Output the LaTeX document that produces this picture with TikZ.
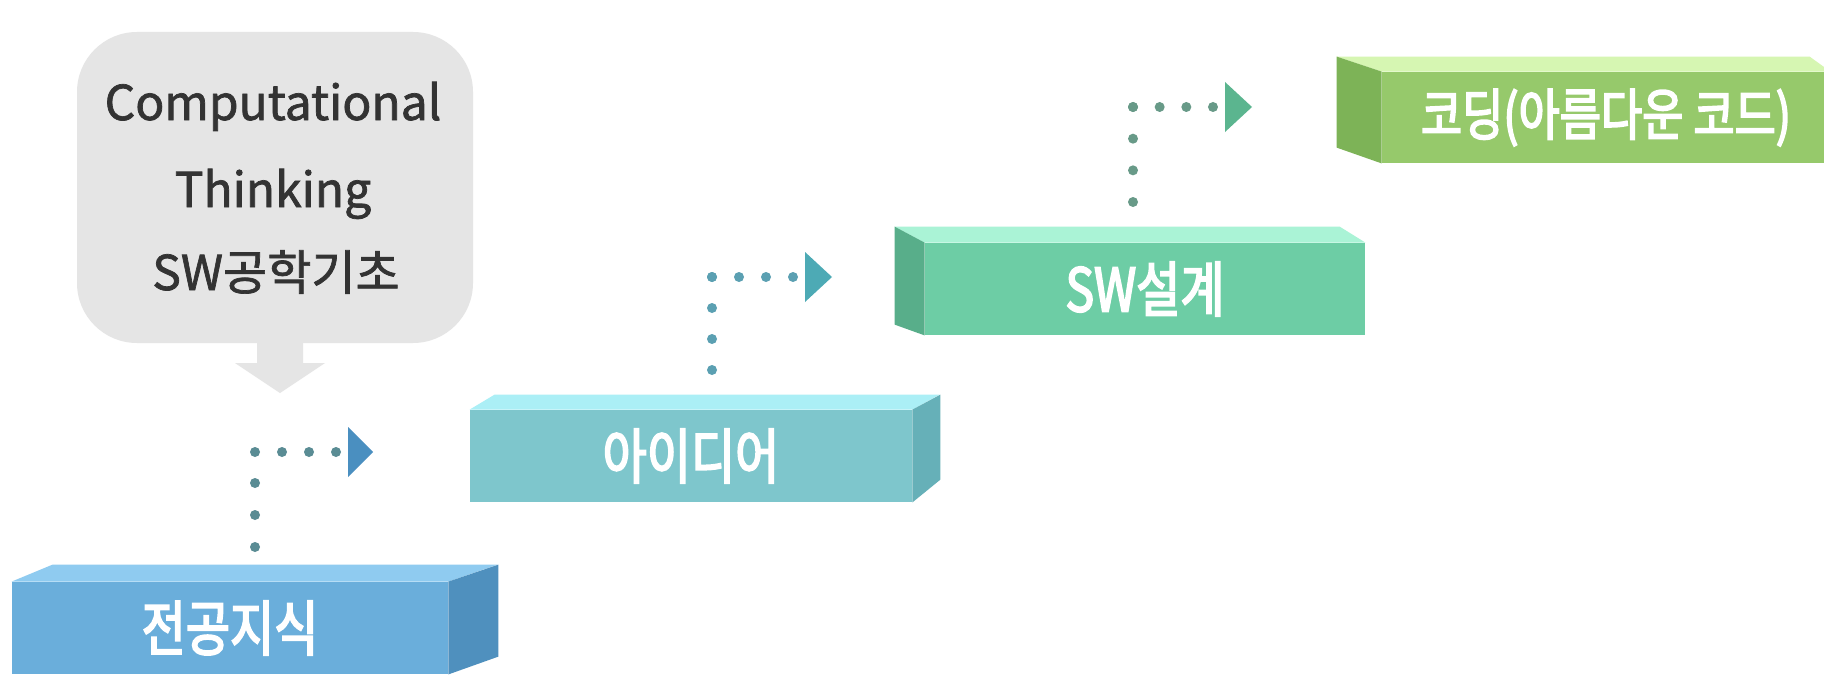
\documentclass[tikz,border=0pt]{standalone}
\usepackage{fontspec}
\newfontfamily\kr[FakeBold=1.5]{Noto Sans CJK KR}
\newfontfamily\krn[FakeStretch=0.8,FakeBold=3]{Noto Sans CJK KR}
\definecolor{bAfront}{HTML}{6AAEDB}
\definecolor{bAtop}{HTML}{8FCBF0}
\definecolor{bAside}{HTML}{4F90BE}
\definecolor{bBfront}{HTML}{7EC6CC}
\definecolor{bBtop}{HTML}{ABEFF6}
\definecolor{bBside}{HTML}{66B0B8}
\definecolor{bCfront}{HTML}{6DCDA5}
\definecolor{bCtop}{HTML}{AAF3D6}
\definecolor{bCside}{HTML}{58AE8A}
\definecolor{bDfront}{HTML}{96C96B}
\definecolor{bDtop}{HTML}{D6F6B2}
\definecolor{bDside}{HTML}{7DB357}
\definecolor{callout}{HTML}{E5E5E5}
\definecolor{ctxt}{HTML}{333333}
\definecolor{dotA}{HTML}{5A8C94}
\definecolor{triA}{HTML}{4A8FC0}
\definecolor{dotB}{HTML}{5BA0B2}
\definecolor{triB}{HTML}{4DAAB5}
\definecolor{dotC}{HTML}{689A88}
\definecolor{triC}{HTML}{5BB58F}
\tikzset{
  frontface/.style={inner sep=0pt, text=white, font=\krn\fontsize{30}{36}\selectfont},
  ctext/.style={inner sep=0pt, text=ctxt, font=\kr\fontsize{24}{30}\selectfont},
  dotline/.style={line width=5pt, line cap=round}
}
\begin{document}
\begin{tikzpicture}[x=0.5pt,y=-0.5pt]
\useasboundingbox (0,0) rectangle (1824,674);
\fill[white] (0,0) rectangle (1824,674);
\clip (0,0) rectangle (1824,674);

% callout
\node[fill=callout, rounded corners=30pt, minimum width=198pt, minimum height=155.5pt, inner sep=0pt] (ct) at (275,187.5) {};
\coordinate (ctip) at (280,393);
\fill[callout] (257,340) -- (257,363) -- (235,363) -- (ctip) -- (325,363) -- (303,363) -- (303,340) -- cycle;
\node[ctext, anchor=base] (t1) at (273,120) {Computational};
\node[ctext, anchor=base] (t2) at (273,207) {Thinking};
\node[ctext, anchor=base] (t3) at (276,290) {SW공학기초};

% box 1
\node[frontface, fill=bAfront, minimum width=218pt, minimum height=46pt] (b1) at (230,628) {전공지식};
\fill[bAtop] (b1.north west) -- ++(41,-17) -- ++(445,0) -- (b1.north east) -- cycle;
\fill[bAside] (b1.north east) -- ++(50,-17) -- ++(0,92) -- (b1.south east) -- cycle;

% box 2
\node[frontface, fill=bBfront, minimum width=221pt, minimum height=46pt] (b2) at (691,456) {아이디어};
\fill[bBtop] (b2.north west) -- ++(25,-15) -- ++(445,0) -- (b2.north east) -- cycle;
\fill[bBside] (b2.north east) -- ++(28,-15) -- ++(0,85) -- (b2.south east) -- cycle;

% box 3
\node[frontface, fill=bCfront, minimum width=220pt, minimum height=46pt] (b3) at (1145,289) {SW설계};
\fill[bCtop] (b3.north west) -- ++(-30,-16) -- ++(445,0) -- (b3.north east) -- cycle;
\fill[bCside] (b3.north west) -- ++(-30,-16) -- ++(0,98) -- (b3.south west) -- cycle;

% box 4
\node[frontface, fill=bDfront, minimum width=224pt, minimum height=45.5pt, font=\krn\fontsize{28}{32}\selectfont] (b4) at (1606,117.5) {코딩(아름다운 코드)};
\fill[bDtop] (b4.north west) -- ++(-45,-15) -- ++(473,0) -- (b4.north east) -- cycle;
\fill[bDside] (b4.north west) -- ++(-45,-15) -- ++(0,91) -- (b4.south west) -- cycle;

% connector 1
\coordinate (c1a) at (255,547);
\coordinate (c1b) at (255,452);
\coordinate (c1c) at (340,452);
\coordinate (c1t) at (373,452);
\draw[dotline, dotA, dash pattern=on 0pt off 16pt] (c1a) -- (c1b);
\draw[dotline, dotA, dash pattern=on 0pt off 13.5pt] (c1b) -- (c1c);
\fill[triA] (c1t) -- ++(-25,-25) -- ++(0,50) -- cycle;

% connector 2
\coordinate (c2a) at (712,370);
\coordinate (c2b) at (712,277);
\coordinate (c2c) at (797,277);
\coordinate (c2t) at (832,277);
\draw[dotline, dotB, dash pattern=on 0pt off 15.5pt] (c2a) -- (c2b);
\draw[dotline, dotB, dash pattern=on 0pt off 13.5pt] (c2b) -- (c2c);
\fill[triB] (c2t) -- ++(-27,-25) -- ++(0,50) -- cycle;

% connector 3
\coordinate (c3a) at (1133,202);
\coordinate (c3b) at (1133,107);
\coordinate (c3c) at (1217,107);
\coordinate (c3t) at (1252,107);
\draw[dotline, dotC, dash pattern=on 0pt off 15.83pt] (c3a) -- (c3b);
\draw[dotline, dotC, dash pattern=on 0pt off 13.33pt] (c3b) -- (c3c);
\fill[triC] (c3t) -- ++(-27,-25) -- ++(0,50) -- cycle;
\end{tikzpicture}
\end{document}
